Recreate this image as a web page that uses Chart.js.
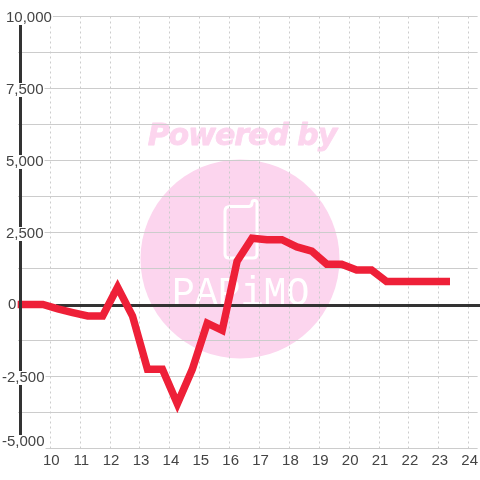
<!DOCTYPE html>
<html><head><meta charset="utf-8">
<style>html,body{margin:0;padding:0;background:#fff}#w{width:480px;height:480px}</style>
<script src="https://cdn.jsdelivr.net/npm/chart.js@4"></script></head>
<body><div id="w"><canvas id="c" width="480" height="480"></canvas></div>
<script>
const hours=[8.75,9.25,9.75,10.25,10.75,11.25,11.75,12.25,12.75,13.25,13.75,14.25,14.75,15.25,15.75,16.25,16.75,17.25,17.75,18.25,18.75,19.25,19.75,20.25,20.75,21.25,21.75,22.25,22.75,23.25];
const values=[0,0,0,-150,-280,-400,-400,600,-400,-2250,-2250,-3450,-2250,-650,-900,1500,2300,2250,2250,2000,1850,1400,1400,1200,1200,800,800,800,800,800];
const xTicks=[10,11,12,13,14,15,16,17,18,19,20,21,22,23,24];
const yTicks=[10000,8750,7500,6250,5000,3750,2500,1250,0,-1250,-2500,-3750,-5000];
const yLabels=['10,000','7,500','5,000','2,500','0','-2,500','-5,000'];
const yLabelValues=[10000,7500,5000,2500,0,-2500,-5000];
const yLabelLeft=[6,6,6,6,8,2,2];
const yLabelShift=[0.5,0.5,0.5,0.5,0,0.5,-7.5];
const watermarkTop='Powered by', watermarkBrand='PAPiMO';
const pink='#fcd5ee', dark='#333333', grid='#cccccc', txt='#444444';
const back={id:'back',beforeDraw(ch){
 const c=ch.ctx;c.save();
 c.fillStyle='#fff';c.fillRect(0,0,480,480);
 c.fillStyle=pink;c.beginPath();c.arc(240,259,99.5,0,Math.PI*2);c.fill();
 c.font='italic bold 30px "DejaVu Sans"';c.textAlign='center';c.textBaseline='alphabetic';c.letterSpacing='-1px';
 c.strokeStyle=pink;c.lineWidth=0.8;c.lineJoin='round';
 c.fillText(watermarkTop,242,145);c.strokeText(watermarkTop,242,145);c.letterSpacing='0px';
 c.strokeStyle='#fff';c.lineWidth=3;
 c.beginPath();c.moveTo(230,206.5);c.lineTo(249,206.5);c.quadraticCurveTo(252,206,252,203);c.quadraticCurveTo(252,200.5,254.5,200.5);c.quadraticCurveTo(257,200.5,257,203);c.lineTo(257,254);c.quadraticCurveTo(257,258,253,258);c.lineTo(229,258);c.quadraticCurveTo(225,258,225,254);c.lineTo(225,211);c.quadraticCurveTo(225,206.5,230,206.5);c.stroke();
 c.fillStyle='#fff';c.textAlign='left';
 c.translate(172,305);c.scale(0.93,1);
 c.font='41px "Liberation Mono"';
 c.fillText(watermarkBrand,0,0);
 c.restore();
}};
const axes={id:'axes',beforeDatasetsDraw(ch){
 const c=ch.ctx,y=ch.scales.y;c.save();
 c.fillStyle=dark;
 const z=Math.round(y.getPixelForValue(0));
 c.fillRect(56,z-1,424,3);
 c.restore();
}, afterDraw(ch){
 const c=ch.ctx,y=ch.scales.y;c.save();
 c.fillStyle=dark;c.fillRect(19,y.top,3,y.bottom-y.top);
 c.font='15px "Liberation Sans"';c.textBaseline='middle';c.textAlign='left';
 yLabels.forEach((t,i)=>{const py=y.getPixelForValue(yLabelValues[i])+yLabelShift[i];const w=c.measureText(t).width;
  c.fillStyle='#fff';c.fillRect(yLabelLeft[i]-1,py-6,w+2,14);
  c.fillStyle=txt;c.fillText(t,yLabelLeft[i],py+0.5);});
 c.restore();
}};
new Chart(document.getElementById('c'),{type:'line',
 data:{datasets:[{data:hours.map((h,i)=>({x:h,y:values[i]})),borderColor:'#ee2038',borderWidth:7.5,pointRadius:0,tension:0,fill:false,borderCapStyle:'square',borderJoinStyle:'miter',clip:0}]},
 plugins:[back,axes],
 options:{responsive:false,animation:false,
  layout:{padding:{left:17.5,top:16.5,right:0,bottom:0}},
  plugins:{legend:{display:false},tooltip:{enabled:false},title:{display:false}},
  scales:{
   x:{type:'linear',min:8.9,max:24.3,afterBuildTicks(a){a.ticks=xTicks.map(v=>({value:v}))},
      grid:{color:grid,lineWidth:1,drawTicks:false},
      border:{display:false,dash:[2,3]},
      ticks:{font:{family:'"Liberation Sans"',size:15},color:txt,maxRotation:0,autoSkip:false,padding:3,labelOffset:1,callback:v=>String(v)},
      afterFit(a){a.height=31.5}},
   y:{type:'linear',min:-5000,max:10000,afterBuildTicks(a){a.ticks=yTicks.map(v=>({value:v}))},
      grid:{color:grid,lineWidth:1,drawTicks:false},border:{display:false},
      ticks:{display:false},afterFit(a){a.width=0}}
  }}});
</script></body></html>
